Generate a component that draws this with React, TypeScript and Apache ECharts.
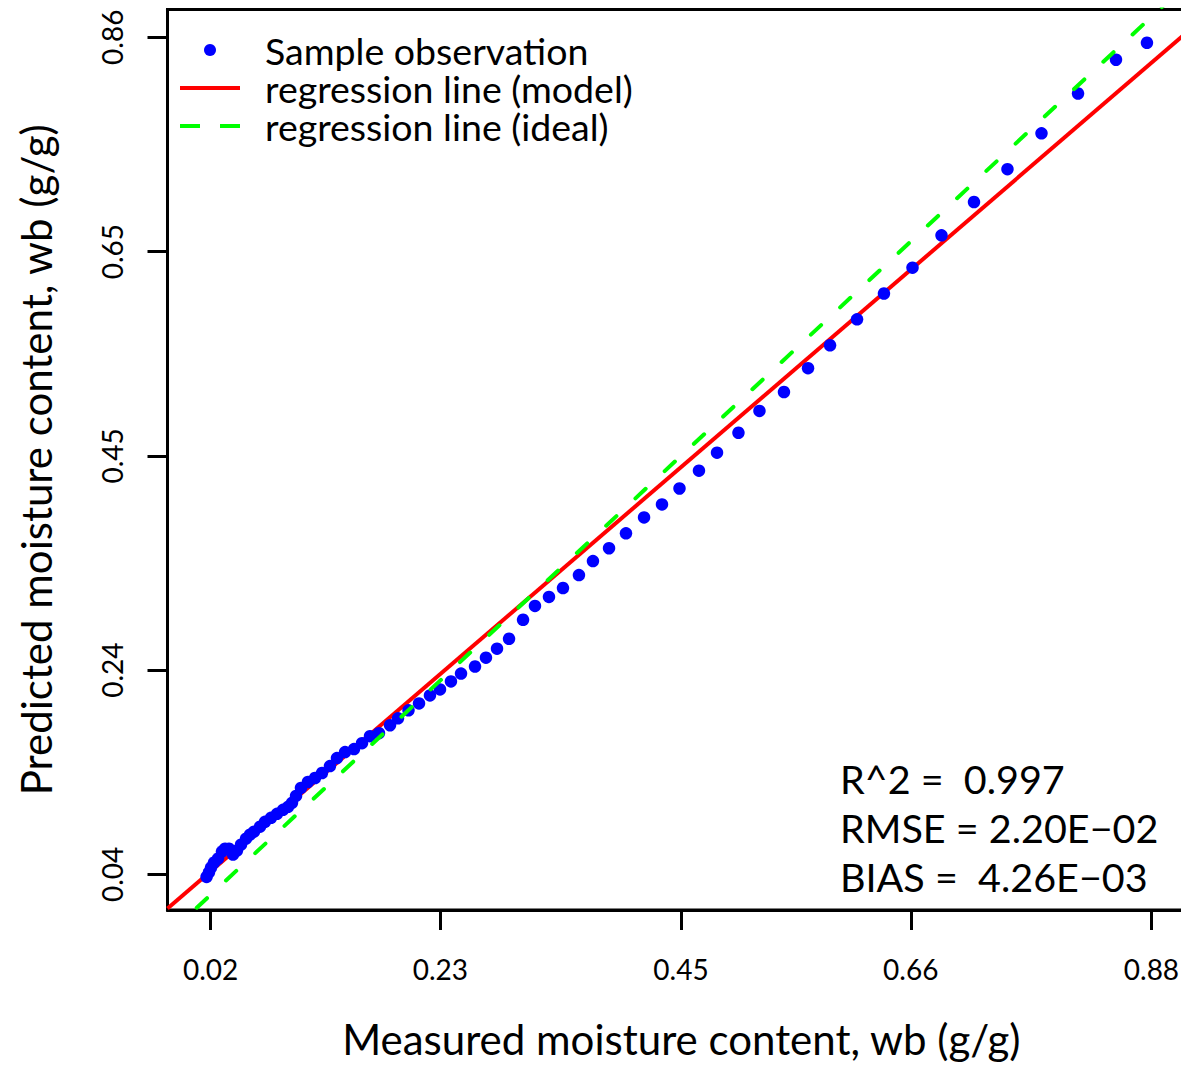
import React, { useEffect, useRef } from "react";
import * as echarts from "echarts";

// ---- data ----
const measured = [
  0.0163, 0.0185, 0.0204, 0.0231, 0.0268, 0.0304, 0.0332, 0.0368, 0.0405, 0.0441,
  0.0478, 0.0524, 0.056, 0.0597, 0.0652, 0.0697, 0.0752, 0.0807, 0.0862, 0.0908,
  0.0944, 0.0981, 0.1026, 0.109, 0.1154, 0.1218, 0.1291, 0.1355, 0.1429, 0.1511,
  0.1584, 0.1657, 0.1739, 0.184, 0.1913, 0.2009, 0.2105, 0.2205, 0.2297, 0.2397,
  0.2489, 0.2617, 0.2717, 0.2818, 0.2928, 0.3056, 0.3165, 0.3293, 0.3421, 0.3567,
  0.3695, 0.3842, 0.3997, 0.4162, 0.4326, 0.4486, 0.4664, 0.4829, 0.5025, 0.5217,
  0.5441, 0.5661, 0.5862, 0.6109, 0.6355, 0.6616, 0.6881, 0.7178, 0.7484, 0.7795,
  0.8129, 0.8476, 0.8759,
];
const predicted = [
  0.0375, 0.0419, 0.0467, 0.0516, 0.0555, 0.0623, 0.0652, 0.0652, 0.0594, 0.0633,
  0.0691, 0.075, 0.0789, 0.0818, 0.0867, 0.0915, 0.0954, 0.0993, 0.1032, 0.1062,
  0.1101, 0.1169, 0.1247, 0.1305, 0.1344, 0.1393, 0.1461, 0.1539, 0.1598, 0.1627,
  0.1685, 0.1754, 0.1783, 0.1861, 0.1929, 0.2007, 0.2075, 0.2153, 0.2212, 0.229,
  0.2367, 0.2436, 0.2523, 0.2611, 0.2708, 0.2894, 0.303, 0.3118, 0.3205, 0.3332,
  0.3469, 0.3595, 0.3741, 0.3897, 0.4024, 0.418, 0.4355, 0.4531, 0.4726, 0.494,
  0.5125, 0.5359, 0.5583, 0.5837, 0.609, 0.6343, 0.666, 0.6986, 0.7308, 0.7659,
  0.8049, 0.838, 0.8546,
];
const modelLineX = [-0.0194, 0.92];
const modelLineY = [0.0066, 0.8718];
const idealLineX = [-0.0194, 0.92];
const idealLineY = [-0.0194, 0.92];
const xTicks = [0.02, 0.23, 0.45, 0.66, 0.88];
const yTicks = [0.04, 0.24, 0.45, 0.65, 0.86];
const legendNames = ["Sample observation", "regression line (model)", "regression line (ideal)"];
const statLines = ["R^2 =  0.997", "RMSE = 2.20E\u221202", "BIAS =  4.26E\u221203"];
const xTitle = "Measured moisture content, wb (g/g)";
const yTitle = "Predicted moisture content, wb (g/g)";

// ---- layout ----
const X_MIN = -0.0194;
const X_MAX = 0.92;
const Y_MIN = 0.00511;
const Y_MAX = 0.8872;
const FONT = "Lato, 'Noto Sans', sans-serif";

export default function App() {
  const ref = useRef<HTMLDivElement>(null);
  useEffect(() => {
    if (!ref.current) return;
    const chart = echarts.init(ref.current, undefined, { renderer: "svg" });
    const option: any = {
      animation: false,
      backgroundColor: "#ffffff",
      grid: {
        left: 167.5,
        top: 9.5,
        width: 1027.7,
        height: 905.2,
        show: true,
        borderColor: "#000",
        borderWidth: 3,
        backgroundColor: "transparent",
      },
      xAxis: {
        type: "value",
        min: X_MIN,
        max: X_MAX,
        axisLine: { show: true, onZero: false, lineStyle: { color: "#000", width: 3 } },
        splitLine: { show: false },
        axisTick: {
          show: true,
          customValues: xTicks,
          length: 20,
          lineStyle: { color: "#000", width: 3 },
        },
        axisLabel: {
          customValues: xTicks,
          formatter: (v: number) => v.toFixed(2),
          fontSize: 28,
          fontFamily: FONT,
          color: "#000",
          margin: 45,
        },
        name: xTitle,
        nameLocation: "middle",
        nameGap: 108,
        nameTextStyle: { fontSize: 42, fontFamily: FONT, color: "#000" },
      },
      yAxis: {
        type: "value",
        min: Y_MIN,
        max: Y_MAX,
        axisLine: { show: true, onZero: false, lineStyle: { color: "#000", width: 3 } },
        splitLine: { show: false },
        axisTick: {
          show: true,
          customValues: yTicks,
          length: 20,
          lineStyle: { color: "#000", width: 3 },
        },
        axisLabel: {
          customValues: yTicks,
          formatter: (v: number) => v.toFixed(2),
          fontSize: 28,
          fontFamily: FONT,
          color: "#000",
          rotate: 90,
          margin: 42,
        },
        name: yTitle,
        nameLocation: "middle",
        nameGap: 111,
        nameTextStyle: { fontSize: 42, fontFamily: FONT, color: "#000" },
      },
      legend: {
        orient: "vertical",
        left: 178,
        top: 31,
        padding: 0,
        itemWidth: 60,
        itemHeight: 12,
        itemGap: 0,
        selectedMode: false,
        data: [
          { name: legendNames[0], icon: "circle" },
          {
            name: legendNames[1],
            itemStyle: { opacity: 0 },
            lineStyle: { width: 4, color: "#ff0000", type: "solid" },
          },
          {
            name: legendNames[2],
            itemStyle: { opacity: 0 },
            lineStyle: { width: 4, color: "#00ff00", type: [20, 20], cap: "butt" },
          },
        ],
        textStyle: {
          fontSize: 37.5,
          fontFamily: FONT,
          color: "#000",
          lineHeight: 37.5,
          padding: [0, 0, 0, 20],
        },
      },
      graphic: statLines.map((t, i) => ({
        type: "text",
        x: 840,
        y: 778 + i * 49,
        z: 10,
        style: {
          text: t,
          fontSize: 39.5,
          fontFamily: FONT,
          fill: "#000",
          verticalAlign: "middle",
          align: "left",
        },
      })),
      series: [
        {
          name: legendNames[0],
          type: "scatter",
          data: measured.map((x, i) => [x, predicted[i]]),
          symbol: "circle",
          symbolSize: 12.5,
          itemStyle: { color: "#0000ff", opacity: 1 },
          z: 3,
        },
        {
          name: legendNames[1],
          type: "line",
          data: modelLineX.map((x, i) => [x, modelLineY[i]]),
          symbol: "none",
          showSymbol: false,
          clip: true,
          lineStyle: { color: "#ff0000", width: 4 },
          itemStyle: { color: "#ff0000" },
          z: 2,
        },
        {
          name: legendNames[2],
          type: "line",
          data: idealLineX.map((x, i) => [x, idealLineY[i]]),
          symbol: "none",
          showSymbol: false,
          clip: true,
          lineStyle: { color: "#00ff00", width: 4, type: [14, 26], cap: "round" },
          itemStyle: { color: "#00ff00" },
          z: 4,
        },
      ],
    };
    chart.setOption(option);
    return () => chart.dispose();
  }, []);
  return (
    <div
      style={{
        position: "absolute",
        left: 0,
        top: 0,
        width: 1181,
        height: 1065,
        overflow: "hidden",
        background: "#fff",
      }}
    >
      <div ref={ref} style={{ width: 1240, height: 1065 }} />
    </div>
  );
}
